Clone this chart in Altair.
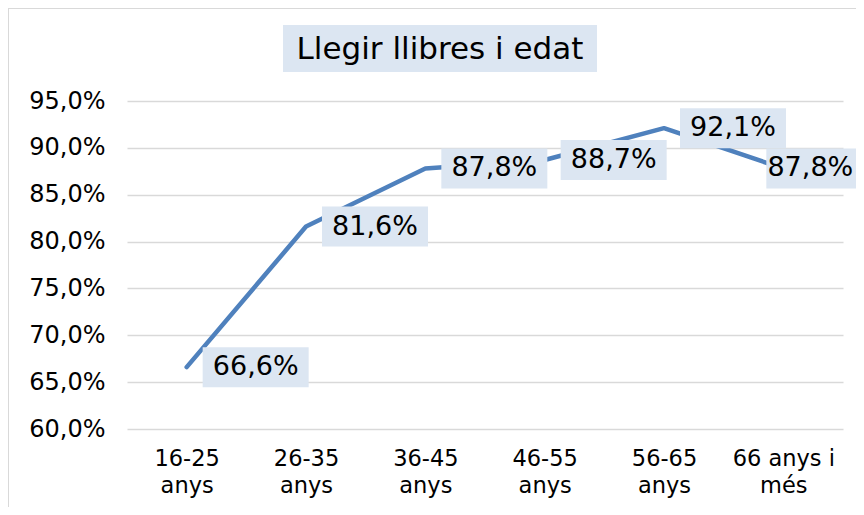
import altair as alt
import pandas as pd

categories = ["16-25 anys", "26-35 anys", "36-45 anys", "46-55 anys", "56-65 anys", "66 anys i més"]
values = [66.6, 81.6, 87.8, 88.7, 92.1, 87.8]
label_texts = ["66,6%", "81,6%", "87,8%", "88,7%", "92,1%", "87,8%"]
y_ticks = [60, 65, 70, 75, 80, 85, 90, 95]
title_text = "Llegir llibres i edat"

df = pd.DataFrame({"cat": categories, "val": values, "lab": label_texts,
                   "last": [False] * 5 + [True]})

FONT = "DejaVu Sans"
BLUE = "#4F81BD"
BOX = "#DCE6F2"
GRID = "#D9D9D9"

x = alt.X("cat:N", sort=categories, title=None,
          scale=alt.Scale(paddingInner=0, paddingOuter=0),
          axis=alt.Axis(labelAngle=0, domain=False, ticks=False, labelPadding=18,
                        labelFontSize=22.5, labelFont=FONT, labelColor="#000000",
                        labelLineHeight=27,
                        labelExpr="datum.label == '66 anys i més' ? ['66 anys i', 'més'] : split(datum.label, ' ')"))
y = alt.Y("val:Q", title=None,
          scale=alt.Scale(domain=[60, 95], nice=False, zero=False),
          axis=alt.Axis(values=y_ticks, domain=False, ticks=False, labelPadding=22,
                        labelFontSize=24, labelFont=FONT, labelColor="#000000",
                        grid=True, gridColor=GRID, gridWidth=1.5,
                        labelExpr="replace(format(datum.value, '.1f'), '.', ',') + '%'"))

base = alt.Chart(df)

line = base.mark_line(color=BLUE, strokeWidth=4.5, strokeCap="round", strokeJoin="round").encode(x=x, y=y)

box_path = "M-1,-0.377L1,-0.377L1,0.377L-1,0.377Z"
boxes = base.transform_filter("!datum.last").mark_point(
    shape=box_path, size=106 * 106, filled=True, fill=BOX, opacity=1, strokeWidth=0, xOffset=69
).encode(x=x, y=y)
boxes_last = base.transform_filter("datum.last").mark_point(
    shape=box_path, size=106 * 106, filled=True, fill=BOX, opacity=1, strokeWidth=0, xOffset=36
).encode(x=x, y=y)

texts = base.transform_filter("!datum.last").mark_text(
    font=FONT, fontSize=27, color="#000000", align="center", baseline="middle", dx=69
).encode(x=x, y=y, text="lab:N")
texts_last = base.transform_filter("datum.last").mark_text(
    font=FONT, fontSize=27, color="#000000", align="center", baseline="middle", dx=27
).encode(x=x, y=y, text="lab:N")

title_box = alt.Chart(pd.DataFrame({"t": [title_text]})).mark_rect(color=BOX).encode(
    x=alt.value(156), x2=alt.value(470), y=alt.value(-76), y2=alt.value(-29))
title_mark = alt.Chart(pd.DataFrame({"t": [title_text]})).mark_text(
    font=FONT, fontSize=31, color="#000000", align="center", baseline="middle"
).encode(x=alt.value(313), y=alt.value(-51), text="t:N")

border_left = alt.Chart(pd.DataFrame({"t": [0]})).mark_rule(color=GRID, strokeWidth=2).encode(
    x=alt.value(-119), y=alt.value(-93), y2=alt.value(420))
border_top = alt.Chart(pd.DataFrame({"t": [0]})).mark_rule(color=GRID, strokeWidth=2).encode(
    x=alt.value(-119), x2=alt.value(740), y=alt.value(-93))

chart = alt.layer(border_left, border_top, title_box, title_mark, line, boxes, boxes_last,
                  texts, texts_last).properties(
    width=716, height=328,
    padding={"left": 119, "top": 93, "right": 13, "bottom": 78},
    autosize=alt.AutoSizeParams(type="none"),
).configure_view(stroke=None)

chart.save("out.html", embed_options={"renderer": "svg", "actions": False})
